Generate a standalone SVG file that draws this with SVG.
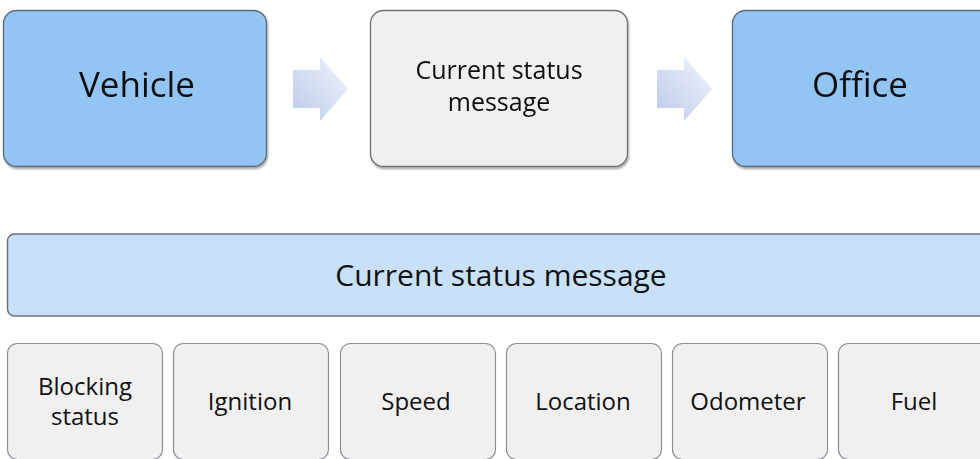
<svg xmlns="http://www.w3.org/2000/svg" width="980" height="459" viewBox="0 0 980 459">
  <defs>
    <linearGradient id="arrowFill" x1="0" y1="1" x2="1" y2="0">
      <stop offset="0" stop-color="#bccaea"/>
      <stop offset="1" stop-color="#f1f4fb"/>
    </linearGradient>
    <filter id="shadow" x="-5%" y="-5%" width="110%" height="115%">
      <feGaussianBlur in="SourceAlpha" stdDeviation="1"/>
      <feOffset dx="0.5" dy="1.5" result="b"/>
      <feComponentTransfer><feFuncA type="linear" slope="0.35"/></feComponentTransfer>
      <feMerge><feMergeNode/><feMergeNode in="SourceGraphic"/></feMerge>
    </filter>
  </defs>
  <style>
    text { font-family: "Open Sans", "Noto Sans", "Liberation Sans", sans-serif; fill: #111; text-anchor: middle; }
    .blue { fill: #92c4f4; stroke: #5d6b7a; stroke-width: 1.3; }
    .grey { fill: #f0f0f0; stroke: #6c737a; stroke-width: 1.3; }
    .bar { fill: #c8e1f8; stroke: #6a737c; stroke-width: 1.5; }
    .item { fill: #f0f0f0; stroke: #8c9096; stroke-width: 1.2; }
    .big { font-size: 35px; }
    .mid { font-size: 25px; }
    .barText { font-size: 30px; }
    .small { font-size: 24px; }
    .arrow { fill: url(#arrowFill); }
  </style>

  <!-- top row: flow from vehicle to office -->
  <g id="vehicle" filter="url(#shadow)">
    <rect class="blue" x="3.5" y="10.5" width="263" height="156" rx="13"/>
    <text class="big" x="137" y="97">Vehicle</text>
  </g>
  <g id="status-message" filter="url(#shadow)">
    <rect class="grey" x="370.5" y="10.5" width="257" height="156" rx="13"/>
    <text class="mid" x="499" y="79">Current status<tspan x="499" dy="32">message</tspan></text>
  </g>
  <g id="office" filter="url(#shadow)">
    <rect class="blue" x="732.5" y="10.5" width="263" height="156" rx="13"/>
    <text class="big" x="860" y="97">Office</text>
  </g>

  <g id="connectors">
    <path class="arrow" d="M293,70 H320 V57 L348,89 L320,121 V108 H293 Z"/>
    <path class="arrow" d="M657,70 H684 V57 L712,89 L684,121 V108 H657 Z"/>
  </g>

  <!-- message breakdown -->
  <g id="message-bar">
    <rect class="bar" x="7.5" y="234" width="990" height="82" rx="7"/>
    <text class="barText" x="501" y="286">Current status message</text>
  </g>

  <g id="blocking-status">
    <rect class="item" x="7.5" y="343.5" width="155" height="116" rx="10"/>
    <text class="small" x="85" y="395">Blocking<tspan x="85" dy="30">status</tspan></text>
  </g>
  <g id="ignition">
    <rect class="item" x="173.5" y="343.5" width="155" height="116" rx="10"/>
    <text class="small" x="250" y="410">Ignition</text>
  </g>
  <g id="speed">
    <rect class="item" x="340.5" y="343.5" width="155" height="116" rx="10"/>
    <text class="small" x="416" y="410">Speed</text>
  </g>
  <g id="location">
    <rect class="item" x="506.5" y="343.5" width="155" height="116" rx="10"/>
    <text class="small" x="583" y="410">Location</text>
  </g>
  <g id="odometer">
    <rect class="item" x="672.5" y="343.5" width="155" height="116" rx="10"/>
    <text class="small" x="748" y="410">Odometer</text>
  </g>
  <g id="fuel">
    <rect class="item" x="838.5" y="343.5" width="155" height="116" rx="10"/>
    <text class="small" x="914" y="410">Fuel</text>
  </g>
</svg>
